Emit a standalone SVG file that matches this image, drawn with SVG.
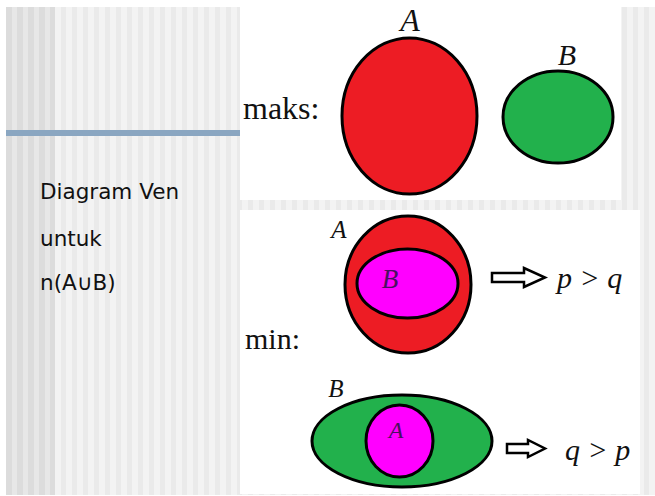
<svg xmlns="http://www.w3.org/2000/svg" width="655" height="496" viewBox="0 0 655 496">
  <defs>
    <pattern id="stripesDark" patternUnits="userSpaceOnUse" x="6" y="0" width="11" height="10">
      <rect x="0" y="0" width="6" height="10" fill="#dcdcdc"/>
      <rect x="6" y="0" width="5" height="10" fill="#e7e7e7"/>
    </pattern>
    <pattern id="stripesLight" patternUnits="userSpaceOnUse" x="55" y="0" width="11" height="10">
      <rect x="0" y="0" width="6" height="10" fill="#f3f3f3"/>
      <rect x="6" y="0" width="5" height="10" fill="#eaeaea"/>
    </pattern>
    <style>
      .serif { font-family: "Liberation Serif", "Times New Roman", serif; fill: #111; }
      .ital { font-style: italic; }
      .side { font-family: "DejaVu Sans", Verdana, sans-serif; font-size: 21.5px; fill: #111; }
      .set { stroke: #000; stroke-width: 3; }
      .red { fill: #ed1c24; }
      .green { fill: #22b14c; }
      .mag { fill: #ff00ff; }
      .inner { fill: #4a1060; }
      .arrow { fill: #fff; stroke: #000; stroke-width: 2.5; stroke-linejoin: miter; }
    </style>
  </defs>

  <rect width="655" height="496" fill="#fff"/>
  <g id="background">
    <rect x="55" y="7" width="600" height="488" fill="url(#stripesLight)"/>
    <rect x="6" y="7" width="49" height="488" fill="url(#stripesDark)"/>
    <rect x="6" y="130" width="234" height="6" fill="#8aa6c1"/>
  </g>

  <g id="caption">
    <text class="side" x="40" y="199">Diagram Ven</text>
    <text class="side" x="40" y="246">untuk</text>
    <text class="side" x="40" y="290">n(A∪B)</text>
  </g>

  <g id="panel-maks">
    <rect x="240" y="0" width="381" height="200" fill="#fff"/>
    <text class="serif" x="243" y="119" font-size="32">maks:</text>
    <g id="maks-A">
      <ellipse class="set red" cx="409.5" cy="116" rx="67.5" ry="78"/>
      <text class="serif ital" x="410" y="31" font-size="32" text-anchor="middle">A</text>
    </g>
    <g id="maks-B">
      <ellipse class="set green" cx="558" cy="117" rx="55" ry="46"/>
      <text class="serif ital" x="567" y="65" font-size="30" text-anchor="middle">B</text>
    </g>
  </g>

  <g id="panel-min">
    <rect x="240" y="210" width="400" height="284" fill="#fff"/>
    <text class="serif" x="245" y="349" font-size="30">min:</text>
    <g id="min-A-contains-B">
      <ellipse class="set red" cx="408" cy="284.5" rx="63" ry="68.5"/>
      <ellipse class="set mag" cx="407.5" cy="283.5" rx="50.5" ry="34.5"/>
      <text class="serif ital" x="339" y="238" font-size="25" text-anchor="middle">A</text>
      <text class="serif ital inner" x="390" y="288" font-size="27" text-anchor="middle">B</text>
    </g>
    <g id="result-pq">
      <text class="serif ital" x="557" y="288" font-size="30">p &gt; q</text>
    </g>
    <g id="min-B-contains-A">
      <ellipse class="set green" cx="402" cy="441" rx="90" ry="46"/>
      <ellipse class="set mag" cx="399.5" cy="441" rx="33.5" ry="36"/>
      <text class="serif ital" x="336" y="397" font-size="25" text-anchor="middle">B</text>
      <text class="serif ital inner" x="396" y="438" font-size="24" text-anchor="middle">A</text>
    </g>
    <g id="result-qp">
      <text class="serif ital" x="565" y="460" font-size="30">q &gt; p</text>
    </g>
  </g>

  <g id="connectors">
    <polygon class="arrow" points="492,273 524,273 524,268 545,277.5 524,287 524,282 492,282"/>
    <polygon class="arrow" points="507,444 528,444 528,440 545,448.5 528,457 528,453 507,453"/>
  </g>
</svg>
